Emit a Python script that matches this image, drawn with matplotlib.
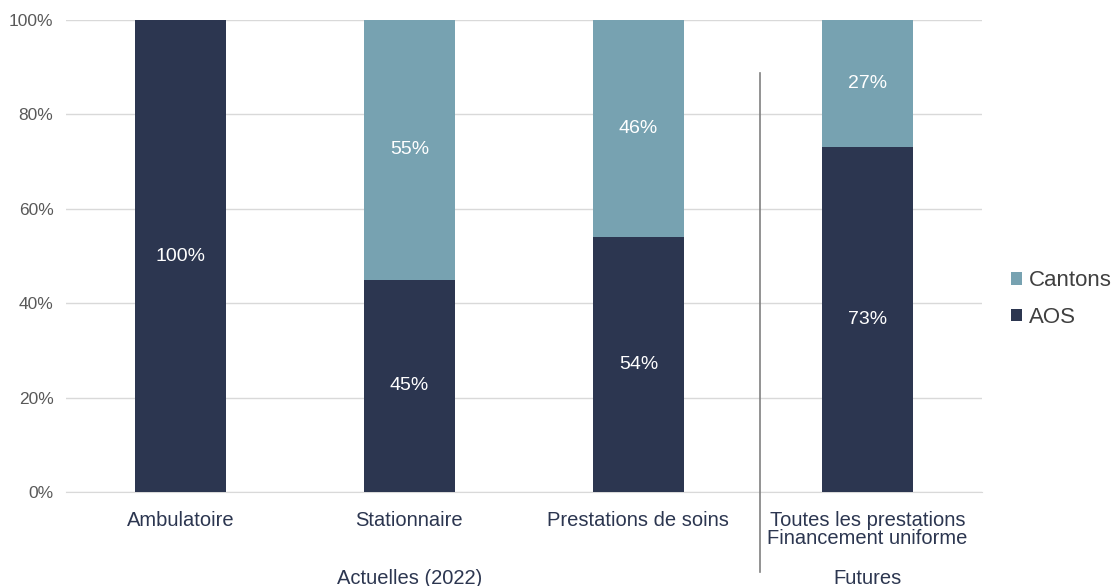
import matplotlib.pyplot as plt
import numpy as np

plt.rcParams['font.family'] = ['Liberation Sans', 'DejaVu Sans']

categories = ["Ambulatoire", "Stationnaire", "Prestations de soins",
              "Toutes les prestations\nFinancement uniforme"]
aos = [100, 45, 54, 73]
cantons = [0, 55, 46, 27]
groups = ["Actuelles (2022)", "Futures"]

c_aos = '#2c3650'
c_cant = '#77a2b1'

fig = plt.figure(figsize=(11.17, 5.86), dpi=100)
ax = fig.add_axes([0.059, 0.160, 0.820, 0.806])

x = np.arange(len(categories))
ax.bar(x, aos, width=0.40, color=c_aos, label="AOS", zorder=3)
ax.bar(x, cantons, width=0.40, bottom=aos, color=c_cant, label="Cantons", zorder=3)

# valeurs dans les barres
for i in range(len(x)):
    if aos[i] > 0:
        ax.text(x[i], aos[i] / 2, f"{aos[i]}%", ha='center', va='center',
                color='white', fontsize=14)
    if cantons[i] > 0:
        ax.text(x[i], aos[i] + cantons[i] / 2, f"{cantons[i]}%", ha='center',
                va='center', color='white', fontsize=14)

ax.set_xlim(-0.5, len(x) - 0.5)
ax.set_ylim(0, 100)
ax.set_yticks(np.arange(0, 101, 20))
ax.set_yticklabels([f"{v}%" for v in range(0, 101, 20)])
ax.yaxis.grid(True, color='#d9d9d9', linewidth=1, zorder=0)
ax.set_axisbelow(True)
for s in ['top', 'right', 'left']:
    ax.spines[s].set_visible(False)
ax.spines['bottom'].set_color('#d9d9d9')
ax.tick_params(axis='y', length=0, labelsize=12.5, labelcolor='#595959', pad=9)
ax.tick_params(axis='x', length=0)
ax.set_xticks(x)
ax.set_xticklabels([])

for i, lab in enumerate(categories):
    ax.text(x[i], -3.9, lab, ha='center', va='top', fontsize=14.5,
            color='#2c3650', linespacing=0.95, clip_on=False)

ax.text(1, -16.2, groups[0], ha='center', va='top', fontsize=14.5, color='#2c3650', clip_on=False)
ax.text(3, -16.2, groups[1], ha='center', va='top', fontsize=14.5, color='#2c3650', clip_on=False)

# séparation entre les groupes
ax.plot([2.53, 2.53], [88.8, -16.9], color='#808080', linewidth=1.2, clip_on=False, zorder=4)

handles, labels = ax.get_legend_handles_labels()
ax.legend(handles[::-1], labels[::-1], loc='center left', bbox_to_anchor=(1.01, 0.409),
          frameon=False, fontsize=16, handlelength=0.5, handleheight=0.5,
          handletextpad=0.3, labelspacing=0.7, labelcolor='#404040')

fig.savefig("out.png", dpi=100)
